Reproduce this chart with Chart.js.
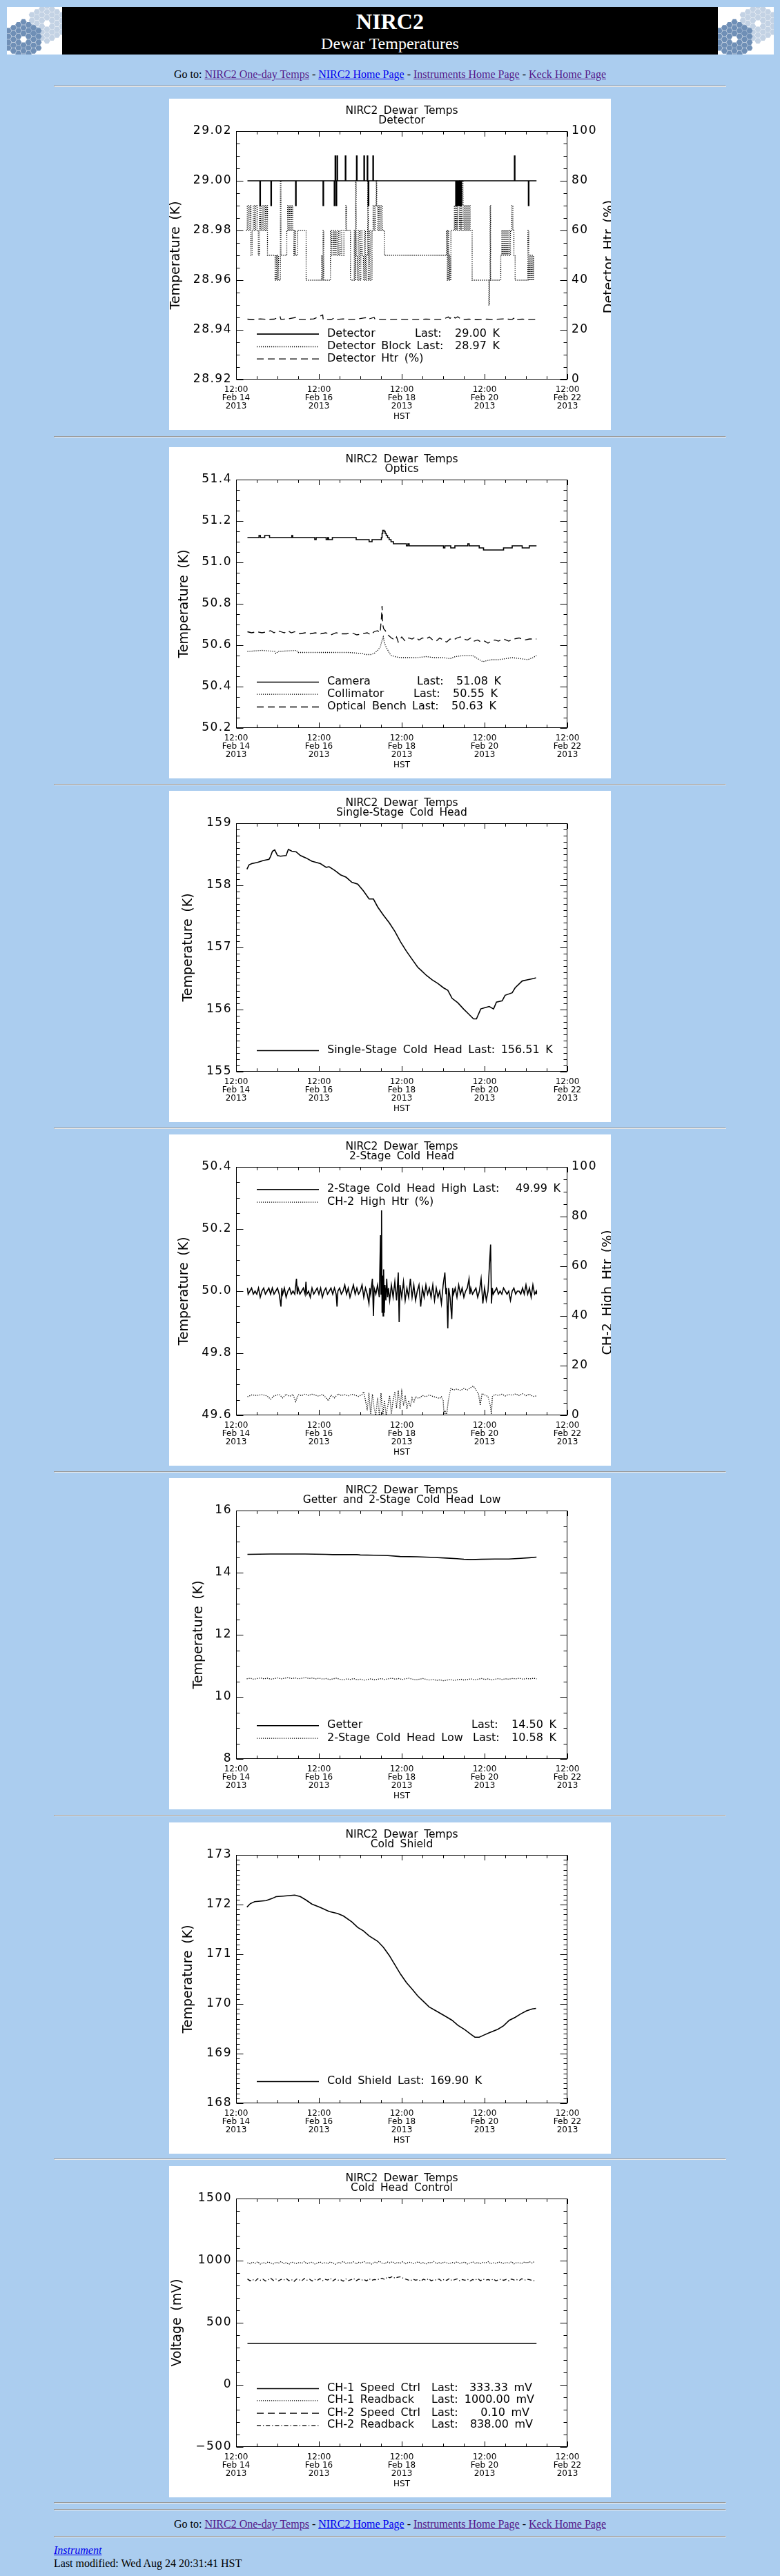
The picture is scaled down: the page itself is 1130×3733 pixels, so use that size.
<!DOCTYPE html>
<html>
<head>
<meta charset="utf-8">
<title>NIRC2 Dewar Temperatures</title>
<script src="https://cdn.jsdelivr.net/npm/chart.js@4.4.1/dist/chart.umd.min.js"></script>
<style>
  html, body { margin:0; padding:0; background:#abcdef; }
  #page { position:relative; width:1130px; height:3733px; font-family:"Liberation Serif","Times New Roman",serif; color:#000; }
  .abs { position:absolute; }
  .nav { position:absolute; left:0; width:1130px; text-align:center; font-size:16px; line-height:20px; white-space:nowrap; }
  .nav a, .foot a { text-decoration:underline; }
  .vis { color:#551a8b; }
  .unv { color:#0000ee; }
  hr.rule { position:absolute; left:78px; width:972px; margin:0; }
  canvas.plot { position:absolute; left:245px; width:640px; height:480px; background:#fff; }
  #hdr { position:absolute; left:90px; top:10px; width:950px; height:69px; background:#000; color:#fff; text-align:center; }
</style>
</head>
<body>
<div id="page">
  <canvas id="logoL" class="abs" width="80" height="69" style="left:10px;top:10px;"></canvas>
  <div id="hdr">
    <div class="abs" style="left:0;width:950px;top:5px;font-size:32px;line-height:32px;font-weight:bold;">NIRC2</div>
    <div class="abs" style="left:0;width:950px;top:41px;font-size:24px;line-height:24px;">Dewar Temperatures</div>
  </div>
  <canvas id="logoR" class="abs" width="81" height="69" style="left:1040px;top:10px;"></canvas>

  <div class="nav" style="top:98px;">Go to: <a class="vis">NIRC2 One-day Temps</a> - <a class="unv">NIRC2 Home Page</a> - <a class="vis">Instruments Home Page</a> - <a class="vis">Keck Home Page</a></div>
  <hr class="rule" style="top:124px;">

  <canvas id="c1" class="plot" width="640" height="480" style="top:143px;"></canvas>
  <hr class="rule" style="top:632px;">
  <canvas id="c2" class="plot" width="640" height="480" style="top:648px;"></canvas>
  <hr class="rule" style="top:1136px;">
  <canvas id="c3" class="plot" width="640" height="480" style="top:1146px;"></canvas>
  <hr class="rule" style="top:1634px;">
  <canvas id="c4" class="plot" width="640" height="480" style="top:1644px;"></canvas>
  <hr class="rule" style="top:2132px;">
  <canvas id="c5" class="plot" width="640" height="480" style="top:2142px;"></canvas>
  <hr class="rule" style="top:2630px;">
  <canvas id="c6" class="plot" width="640" height="480" style="top:2641px;"></canvas>
  <hr class="rule" style="top:3128px;">
  <canvas id="c7" class="plot" width="640" height="480" style="top:3139px;"></canvas>
  <hr class="rule" style="top:3626px;">
  <hr class="rule" style="top:3636px;">

  <div class="nav" style="top:3648px;">Go to: <a class="vis">NIRC2 One-day Temps</a> - <a class="unv">NIRC2 Home Page</a> - <a class="vis">Instruments Home Page</a> - <a class="vis">Keck Home Page</a></div>
  <hr class="rule" style="top:3675px;">
  <div class="abs foot" style="left:78px;top:3686px;font-size:16px;line-height:20px;"><a class="unv"><i>Instrument</i></a></div>
  <div class="abs" style="left:78px;top:3705px;font-size:16px;line-height:20px;white-space:nowrap;">Last modified: Wed Aug 24 20:31:41 HST</div>
</div>

<script>
// ================= DATA =================
// time axis: hours after 12:00 Feb 14 2013 (HST)
const xTickValues = [0, 48, 96, 144, 192];
const xTickLabels = [
  ["12:00", "Feb 14", "2013"], ["12:00", "Feb 16", "2013"], ["12:00", "Feb 18", "2013"],
  ["12:00", "Feb 20", "2013"], ["12:00", "Feb 22", "2013"]
];
const pctTicks = [0, 20, 40, 60, 80, 100];

// ---- Chart 1: Detector
const detTicks = [28.92, 28.94, 28.96, 28.98, 29.00, 29.02];
const detector = [[6.6,29.00],[13.8,28.99],[14.1,29.00],[20.2,28.99],[20.5,29.00],[34.5,28.99],[34.8,29.00],[50.4,28.99],[50.7,29.00],
  [56.9,28.99],[57.2,29.00],[57.4,29.01],[57.7,29.00],[58.0,28.99],[58.3,29.00],[58.5,29.01],[58.8,29.00],[63.3,29.01],[63.6,29.00],
  [69.8,29.01],[70.1,29.00],[74.1,29.01],[74.4,29.00],[76.0,29.01],[76.3,29.00],[76.6,28.99],[76.9,29.00],[79.3,29.01],[79.6,29.00],
  [127.3,28.99],[127.6,29.00],[127.9,28.99],[128.2,29.00],[128.5,28.99],[128.8,29.00],[129.1,28.99],[129.4,29.00],[129.7,28.99],
  [130.0,29.00],[130.3,28.99],[130.6,29.00],[161.3,29.01],[161.6,29.00],[169.4,28.99],[169.7,29.00],[174.1,29.00]];
const detectorBlock = [[5.8,28.98],[6.5,28.99],[7.3,28.98],[8.0,28.99],[8.6,28.97],[9.3,28.98],[10.0,28.99],[10.7,28.98],[11.4,28.99],
  [12.2,28.98],[12.9,28.97],[13.5,28.99],[14.2,28.98],[14.9,28.99],[15.6,28.98],[16.3,28.99],[17.0,28.98],[17.7,28.99],[18.2,28.97],
  [22.6,28.96],[23.2,28.97],[23.6,28.96],[24.0,28.97],[24.6,28.96],[25.7,29.00],[26.0,28.97],[29.4,28.98],[29.9,28.99],[30.5,28.98],
  [31.0,28.99],[31.6,28.98],[32.2,28.99],[32.8,28.98],[33.5,28.97],[34.0,28.98],[34.4,28.97],[35.6,28.98],[40.6,28.96],[49.6,28.97],
  [49.9,28.96],[50.4,28.98],[50.8,28.96],[54.7,28.98],[55.4,28.97],[56.2,28.98],[56.8,28.97],[57.4,28.98],[58.0,28.97],[58.8,28.98],
  [59.5,28.97],[60.3,28.98],[61.2,28.97],[62.5,28.98],[63.6,28.99],[64.0,28.98],[66.3,28.96],[68.5,28.98],[69.0,28.96],[69.3,29.00],
  [69.6,28.97],[70.2,28.96],[70.8,28.98],[71.5,28.96],[72.3,28.98],[73.0,28.97],[73.8,28.96],[74.4,28.98],[75.0,28.96],[75.6,28.97],
  [76.3,29.00],[76.6,28.96],[77.3,28.98],[78.0,28.96],[78.8,28.98],[79.4,28.99],[80.0,28.98],[80.6,28.99],[81.2,29.00],[81.5,28.99],
  [82.1,28.98],[82.7,28.99],[83.3,28.98],[84.0,28.99],[84.7,28.98],[86.0,28.97],[121.9,28.98],[122.4,28.96],[122.8,28.98],[123.2,28.96],
  [123.6,28.97],[124.0,28.96],[124.5,28.98],[126.5,28.99],[127.0,28.98],[127.5,29.00],[128.0,28.98],[128.5,28.99],[129.0,29.00],
  [129.5,28.98],[130.0,28.99],[130.5,28.98],[131.0,29.00],[131.5,28.99],[132.0,28.98],[132.6,28.99],[133.2,28.98],[133.8,28.99],
  [134.4,28.98],[135.0,28.99],[135.6,28.98],[136.8,28.96],[146.5,28.95],[146.9,28.96],[147.2,28.99],[147.5,28.96],[153.4,28.97],
  [154.0,28.98],[154.6,28.97],[155.2,28.98],[155.8,28.97],[156.4,28.98],[157.0,28.97],[157.6,28.98],[158.3,28.97],[159.0,28.98],
  [159.8,28.99],[160.4,28.98],[161.0,28.97],[161.7,28.96],[169.1,28.98],[169.6,28.96],[170.2,28.97],[170.8,28.96],[171.4,28.97],
  [172.0,28.96],[172.4,28.97]];
const detectorHtr = [[6.6,24.3],[10,24.1],[14,24.4],[18,24.2],[22,24.3],[25.5,25.3],[26,24.2],[30,24.4],[34.5,25.0],[35,24.3],
  [40,24.2],[45,24.4],[50.2,26.0],[50.5,24.2],[51,24.3],[55,24.1],[57,24.8],[58,24.2],[62,24.4],[66,24.2],[70,24.3],[75,24.9],
  [76,24.2],[80,25.0],[80.5,24.3],[85,24.2],[90,24.2],[95,24.3],[100,24.2],[105,24.2],[110,24.3],[115,24.2],[120,24.3],[123,25.2],
  [124,24.6],[125.5,25.5],[127,24.7],[128.5,25.3],[130,24.5],[131,24.2],[135,24.3],[140,24.1],[145,24.3],[150,24.2],[155,24.4],
  [160,24.2],[161.5,24.9],[162,24.2],[166,24.3],[170,24.2],[174.1,24.3]];

// ---- Chart 2: Optics
const opticsTicks = [50.2, 50.4, 50.6, 50.8, 51.0, 51.2, 51.4];
const camera = [[6.6,51.12],[13.3,51.13],[14.1,51.12],[16.6,51.13],[19.4,51.12],[32.3,51.13],[32.8,51.12],[45.6,51.11],[46.4,51.12],
  [52.2,51.11],[53.0,51.12],[53.6,51.11],[55.8,51.12],[69.6,51.11],[77.1,51.10],[78.8,51.11],[84.2,51.12],[84.6,51.14],[85.0,51.155],
  [85.8,51.15],[86.4,51.14],[87.0,51.13],[87.8,51.12],[88.7,51.11],[89.8,51.10],[91.2,51.09],[98.7,51.08],[99.6,51.09],[100.3,51.08],
  [120.2,51.07],[121.0,51.08],[124.4,51.07],[126.8,51.08],[134.3,51.09],[135.1,51.08],[140.9,51.07],[143.4,51.06],[155.0,51.07],
  [160.0,51.08],[165.8,51.07],[169.9,51.08],[174.1,51.08]];
const collimator = [[6.6,50.57],[15,50.575],[22.5,50.57],[23,50.56],[24.5,50.57],[35,50.575],[36,50.565],[45,50.565],[55,50.565],
  [65,50.565],[73,50.56],[75,50.555],[78,50.555],[80,50.56],[82,50.575],[83.5,50.59],[84.5,50.62],[85.3,50.64],[86,50.61],[87,50.59],
  [88,50.575],[89,50.56],[90,50.55],[92,50.545],[95,50.54],[100,50.54],[105,50.54],[110,50.545],[115,50.54],[120,50.54],[124,50.535],
  [127,50.545],[132,50.55],[137,50.55],[139,50.54],[141,50.53],[143,50.52],[145,50.525],[148,50.53],[152,50.53],[156,50.535],
  [160,50.54],[165,50.535],[169,50.53],[172,50.54],[174.1,50.55]];
const opticalBench = [[6.6,50.665],[9,50.66],[12,50.665],[15,50.66],[18,50.665],[20,50.67],[22,50.66],[24,50.67],[26,50.665],
  [28,50.66],[30,50.67],[32,50.66],[34,50.665],[37,50.655],[40,50.66],[43,50.655],[46,50.66],[49,50.655],[52,50.66],[55,50.65],
  [58,50.66],[61,50.655],[64,50.655],[67,50.66],[70,50.65],[73,50.655],[76,50.66],[78,50.65],[80,50.665],[82,50.67],[83.5,50.66],
  [84.2,50.73],[84.6,50.79],[85.0,50.70],[85.5,50.68],[86.5,50.67],[88,50.65],[90,50.635],[92,50.625],[93,50.64],[94,50.615],
  [96,50.64],[98,50.62],[100,50.635],[102,50.63],[104,50.64],[106,50.625],[108,50.635],[110,50.63],[112,50.64],[114,50.625],
  [116,50.62],[118,50.635],[120,50.625],[122,50.615],[124,50.63],[126,50.625],[128,50.635],[130,50.64],[132,50.63],[134,50.625],
  [136,50.635],[138,50.62],[140,50.625],[142,50.615],[144,50.62],[146,50.61],[148,50.62],[150,50.625],[152,50.62],[155,50.63],
  [158,50.62],[161,50.63],[164,50.635],[167,50.625],[170,50.63],[174.1,50.63]];

// ---- Chart 3: Single-Stage Cold Head
const ssTicks = [155, 156, 157, 158, 159];
const singleStage = [[6.3,158.26],[7.5,158.33],[9.1,158.35],[12.4,158.37],[15.8,158.40],[19.1,158.42],[19.9,158.46],[21.1,158.55],
  [22.4,158.57],[24.0,158.48],[25.7,158.47],[29.0,158.48],[30.3,158.58],[32.3,158.55],[34.8,158.54],[37.3,158.48],[40.6,158.44],
  [43.9,158.39],[48.9,158.35],[52.2,158.29],[53.9,158.30],[57.2,158.24],[60.5,158.17],[63.8,158.13],[67.1,158.05],[70.5,158.02],
  [73.8,157.91],[77.1,157.78],[79.6,157.78],[82.1,157.65],[85.4,157.52],[88.7,157.40],[92.0,157.26],[95.3,157.09],[98.7,156.94],
  [102.0,156.81],[105.3,156.68],[106.9,156.64],[110.3,156.55],[113.6,156.48],[116.9,156.42],[120.2,156.35],[122.7,156.31],
  [125.2,156.18],[128.5,156.11],[131.8,156.01],[135.1,155.92],[137.6,155.85],[139.3,155.85],[141.8,156.01],[144.2,156.03],
  [146.7,156.05],[149.2,156.01],[150.9,156.12],[154.2,156.14],[155.9,156.23],[160.0,156.27],[161.7,156.35],[165.8,156.46],
  [169.1,156.48],[172.4,156.50],[173.8,156.51]];

// ---- Chart 4: 2-Stage Cold Head
const tsTicks = [49.6, 49.8, 50.0, 50.2, 50.4];
const twoStageHigh = [[6.6,50.01],[7,49.99],[8,50.00],[9,50.01],[10,49.99],[11,50.00],[12,49.99],[13,50.01],[14,49.98],[15,50.00],
  [16,50.01],[17,49.99],[18,50.00],[19,50.01],[20,49.99],[21,50.01],[22,49.99],[23,50.00],[24,50.01],[25,49.99],[26,49.95],[26.5,50.01],
  [27,49.99],[28,50.01],[29,49.98],[30,50.00],[31,50.01],[32,49.99],[33,50.00],[34,49.99],[35,50.04],[35.5,49.99],[36,50.01],[37,49.99],
  [38,50.00],[39,50.01],[40,49.99],[40.5,50.03],[41,49.99],[42,50.00],[43,49.98],[44,50.01],[45,49.99],[46,50.00],[47,50.01],[48,49.99],
  [49,50.01],[50,49.98],[51,50.00],[52,50.01],[53,49.99],[54,50.00],[55,50.01],[56,49.99],[57,50.01],[58,49.99],[58.5,49.95],[59,50.00],
  [60,50.01],[61,49.99],[62,50.00],[63,50.02],[64,49.99],[65,50.01],[66,49.98],[67,50.00],[68,50.02],[69,49.99],[70,50.01],[71,49.99],
  [72,50.00],[73,50.02],[74,49.98],[75,50.01],[76,49.99],[77,49.96],[77.5,50.01],[78,49.99],[79,50.04],[79.6,49.92],[80,50.01],[81,49.99],
  [82,50.02],[83,49.98],[83.7,50.18],[84,49.99],[84.3,50.26],[84.6,49.93],[84.9,50.05],[85.2,49.92],[85.5,50.07],[85.9,49.93],
  [86.3,50.02],[86.8,49.97],[87.3,50.04],[87.8,49.98],[88.3,50.01],[89,49.97],[90,50.02],[91,49.98],[92,50.03],[93,49.97],[94,50.06],
  [94.5,49.90],[95,50.02],[96,49.98],[97,50.03],[98,49.97],[99,50.01],[100,49.98],[101,50.04],[102,49.98],[103,50.02],[104,49.97],
  [105,50.00],[106,50.02],[107,49.95],[108,50.01],[109,49.98],[110,50.02],[111,49.99],[112,50.01],[113,49.98],[114,50.02],[115,49.97],
  [116,50.01],[117,49.98],[118,50.00],[119,49.96],[120,50.02],[121,50.06],[121.6,49.99],[122,50.01],[122.7,49.88],[123.2,50.01],
  [124,49.98],[125,49.91],[125.5,50.01],[126,49.99],[127,50.01],[128,49.98],[129,50.02],[130,49.99],[131,50.01],[132,49.98],[133,50.00],
  [134,50.01],[135,50.04],[135.5,49.99],[136,50.01],[137,49.99],[138,50.00],[139,50.01],[140,49.98],[141,50.00],[142,50.04],[143,49.96],
  [144,50.01],[145,49.97],[146,50.00],[147.5,50.15],[148,49.96],[148.5,50.01],[149,49.99],[150,50.00],[151,50.01],[152,49.99],[153,50.00],
  [154,49.99],[155,50.01],[156,50.00],[157,49.99],[158,50.00],[159,49.97],[160,50.00],[161,50.01],[162,49.99],[163,50.00],[164,50.00],
  [165,49.99],[166,50.01],[167,49.99],[168,50.02],[169,49.99],[170,50.01],[171,49.98],[172,50.02],[173,49.99],[174,50.00],[174.1,49.99]];
const ch2HighHtr = [[6.6,7.5],[9,8.2],[12,8.0],[15,8.3],[18,7.8],[20,6.5],[22,7.8],[25,8.4],[27,7.0],[29,8.5],[31,7.6],[33,8.4],
  [34.5,5.5],[36,8.3],[38,7.9],[40,8.6],[42,8.0],[44,8.5],[46,8.1],[48,7.7],[50,8.4],[52,7.2],[53.5,5.8],[55,8.2],[57,7.0],[59,8.6],
  [61,8.0],[63,8.3],[65,7.8],[67,8.5],[69,8.1],[71,7.6],[73,8.4],[74,9.5],[75,6.0],[76,2.0],[77,9.0],[78,0.0],[79,8.5],[80,3.0],
  [81,0.0],[82,7.0],[83,0.0],[84,9.0],[85,0.0],[86,6.0],[87,0.0],[88,4.0],[89,8.0],[90,0.5],[91,6.0],[92,9.5],[93,3.0],[94,10.0],
  [95,2.5],[96,9.5],[97,4.0],[98,8.0],[99,2.5],[100,6.0],[101,3.5],[102,7.0],[103,5.0],[104,7.5],[106,6.8],[108,8.0],[110,7.5],
  [112,8.2],[114,7.6],[116,7.2],[118,6.8],[119,7.5],[120,6.0],[120.5,0.0],[121,2.0],[122,0.0],[123,6.0],[124,9.5],[124.5,10.8],
  [126,10.2],[128,10.6],[130,10.0],[132,10.8],[134,10.2],[136,11.2],[137.5,11.8],[139,10.2],[140.5,8.6],[141.5,4.0],[142.5,8.8],
  [144,8.2],[146,7.6],[147.5,3.5],[148,0.0],[148.5,7.5],[150,8.4],[152,8.0],[154,8.5],[156,7.8],[158,8.4],[160,8.1],[162,8.6],
  [164,8.0],[166,8.7],[168,7.9],[170,8.5],[172,7.6],[174.1,7.8]];

// ---- Chart 5: Getter and 2-Stage Cold Head Low
const getterTicks = [8, 10, 12, 14, 16];
const getter = [[6.6,14.59],[20,14.60],[40,14.60],[52,14.59],[56,14.58],[70,14.58],[72,14.57],[80,14.56],[88,14.55],[95,14.52],
  [105,14.51],[115,14.49],[122,14.47],[128,14.45],[132,14.43],[136,14.42],[142,14.43],[150,14.44],[158,14.44],[165,14.46],
  [170,14.48],[174.1,14.50]];
const lowStart = 6.2, lowStep = 2;
const twoStageLow = [10.58,10.60,10.57,10.59,10.61,10.58,10.60,10.57,10.59,10.61,
  10.58,10.60,10.62,10.59,10.61,10.58,10.60,10.62,10.59,10.61,
  10.58,10.60,10.57,10.59,10.56,10.58,10.60,10.57,10.55,10.58,
  10.56,10.59,10.55,10.57,10.54,10.56,10.58,10.55,10.57,10.59,
  10.56,10.58,10.60,10.57,10.59,10.56,10.58,10.60,10.57,10.55,
  10.57,10.59,10.56,10.54,10.56,10.53,10.55,10.52,10.54,10.56,
  10.53,10.55,10.57,10.54,10.56,10.58,10.55,10.57,10.59,10.56,
  10.58,10.55,10.57,10.59,10.56,10.58,10.57,10.59,10.58,10.60,
  10.57,10.59,10.58,10.60,10.58];

// ---- Chart 6: Cold Shield
const csTicks = [168, 169, 170, 171, 172, 173];
const coldShield = [[6.3,171.95],[8.3,172.02],[10.8,172.06],[14.1,172.07],[17.4,172.08],[20.7,172.12],[23.2,172.16],[27.4,172.17],
  [30.7,172.18],[34.0,172.19],[37.3,172.16],[40.6,172.09],[43.9,172.01],[48.9,171.94],[53.9,171.86],[58.9,171.82],[62.2,171.77],
  [67.1,171.65],[70.5,171.54],[73.8,171.47],[77.1,171.37],[82.1,171.26],[85.4,171.14],[88.7,170.98],[92.0,170.79],[95.3,170.60],
  [98.7,170.43],[102.0,170.30],[105.3,170.16],[108.6,170.05],[111.9,169.94],[116.9,169.84],[121.9,169.74],[125.2,169.67],
  [128.5,169.57],[132.6,169.48],[136.0,169.39],[138.4,169.33],[140.9,169.33],[143.4,169.37],[146.7,169.42],[151.7,169.49],
  [155.0,169.56],[158.3,169.67],[161.7,169.73],[165.0,169.80],[168.3,169.86],[171.6,169.90],[173.8,169.91]];

// ---- Chart 7: Cold Head Control
const voltTicks = [-500, 0, 500, 1000, 1500];
const ch1Speed = [[6.6,333.33],[174.1,333.33]];
const ch2Speed = [];
const rbStart = 6.6, rbStep = 1.5;
const ch1Readback = [982,975,988,979,991,972,985,978,990,981,
  974,987,980,993,976,984,970,989,982,977,
  986,979,992,975,983,988,973,981,990,978,
  985,976,989,982,971,987,980,994,977,984,
  979,990,974,986,981,993,978,985,972,988,
  983,996,980,975,989,982,992,977,986,979,
  991,974,984,988,976,983,990,979,985,972,
  987,981,993,976,984,978,989,982,975,986,
  980,991,977,984,988,973,982,990,979,985,
  976,987,981,992,975,983,978,989,984,977,
  986,980,991,974,985,982,979,988,983,990,
  981,995];
const ch2Readback = [852,838,848,835,855,842,850,836,846,858,
  840,851,837,849,844,856,839,847,833,852,
  845,838,857,843,850,836,848,841,855,839,
  849,844,858,837,851,842,847,835,853,840,
  846,856,838,850,843,849,837,854,841,848,
  845,852,859,848,868,862,872,858,866,870,
  860,852,845,839,851,843,848,836,850,842,
  855,838,847,844,852,837,849,841,856,840,
  846,853,839,848,842,850,836,847,844,855,
  838,851,843,848,840,853,837,846,850,842,
  849,838,852,844,847,840,854,843,850,846,
  841,838];

// ================= RENDERING =================
const FONT = "'DejaVu Sans', 'Liberation Sans', sans-serif";
const SOLID = [], DOTTED = [1.2, 1.8], DASHED = [10, 6], DASHDOT = [6, 3, 1.2, 3];

function pts(arr) { return arr.map(p => ({ x: p[0], y: p[1] })); }
function gridPts(start, step, vals) { return vals.map((v, i) => ({ x: start + i * step, y: v })); }
function line(data, dash, axis, stepped) {
  return { data: data, yAxisID: axis || 'y', borderColor: '#000', borderWidth: dash.length ? 1.3 : 1.6, borderDash: dash,
           pointRadius: 0, fill: false, tension: 0, stepped: !!stepped };
}

function tickMarks(min, max, minor, major) {
  const n = Math.round((max - min) / minor), r = Math.round(major / minor), out = [];
  for (let i = 0; i <= n; i++) out.push({ v: min + i * minor, major: i % r === 0 });
  return out;
}

function idlPlugin(spec) {
  return {
    id: 'idl',
    beforeDraw(chart) {
      const c = chart.ctx; c.save(); c.fillStyle = '#fff'; c.fillRect(0, 0, chart.width, chart.height); c.restore();
    },
    afterLayout(chart) {
      ['y', 'y2'].forEach(id => {
        const s = chart.scales[id];
        if (s && !s._lsWrapped) {
          const orig = s.drawLabels.bind(s);
          s.drawLabels = function (area) { const c = chart.ctx; c.save(); c.letterSpacing = '1.5px'; orig(area); c.restore(); };
          s._lsWrapped = true;
        }
      });
    },
    afterDraw(chart) {
      const ctx = chart.ctx, a = chart.chartArea;
      const L = Math.round(a.left) + 0.5, R = Math.round(a.right) - 0.5, T = Math.round(a.top) + 0.5, B = Math.round(a.bottom) - 0.5;
      ctx.save();
      ctx.strokeStyle = '#000'; ctx.lineWidth = 1; ctx.setLineDash([]);
      ctx.strokeRect(L, T, R - L, B - T);
      ctx.beginPath();
      const xs = chart.scales.x;
      tickMarks(xs.min, xs.max, 12, 48).forEach(t => {
        const px = Math.round(xs.getPixelForValue(t.v)) + 0.5, len = t.major ? 7.5 : 4.3;
        ctx.moveTo(px, B); ctx.lineTo(px, B - len);
        ctx.moveTo(px, T); ctx.lineTo(px, T + len);
      });
      const ys = chart.scales.y;
      tickMarks(ys.min, ys.max, spec.y.minor, spec.y.major).forEach(t => {
        const py = Math.round(ys.getPixelForValue(t.v)) + 0.5, len = t.major ? 10 : 5;
        ctx.moveTo(L, py); ctx.lineTo(L + len, py);
        if (!spec.y2) { ctx.moveTo(R, py); ctx.lineTo(R - len, py); }
      });
      if (spec.y2) {
        const y2 = chart.scales.y2;
        tickMarks(y2.min, y2.max, spec.y2.minor, spec.y2.major).forEach(t => {
          const py = Math.round(y2.getPixelForValue(t.v)) + 0.5, len = t.major ? 10 : 5;
          ctx.moveTo(R, py); ctx.lineTo(R - len, py);
        });
      }
      ctx.stroke();

      // titles
      ctx.fillStyle = '#000';
      ctx.textBaseline = 'middle';
      ctx.wordSpacing = '3.5px';
      const cx = (a.left + a.right) / 2;
      ctx.textAlign = 'center';
      ctx.font = '15.5px ' + FONT;
      ctx.fillText('NIRC2 Dewar Temps', cx, 17.8);
      ctx.fillText(spec.subtitle, cx, 32.3);
      ctx.font = '12px ' + FONT;
      ctx.fillText('HST', cx, 461);
      // axis titles (read bottom-to-top)
      ctx.font = '19px ' + FONT;
      const cy = (a.top + a.bottom) / 2;
      ctx.save(); ctx.translate(spec.ytitleX, cy); ctx.rotate(-Math.PI / 2); ctx.fillText(spec.ytitle, 0, 0); ctx.restore();
      if (spec.y2) {
        ctx.save(); ctx.translate(spec.y2.titleX, cy + 2); ctx.rotate(-Math.PI / 2); ctx.fillText(spec.y2.title, 0, 0); ctx.restore();
      }
      // legend
      ctx.font = '16px ' + FONT;
      spec.legend.forEach(row => {
        ctx.setLineDash(row.dash);
        ctx.lineWidth = row.dash.length ? 1.3 : 1.6;
        ctx.beginPath(); ctx.moveTo(127, row.y + 0.5); ctx.lineTo(217, row.y + 0.5); ctx.stroke();
        ctx.setLineDash([]);
        let prevEnd = 0;
        row.parts.forEach(p => {
          const w = ctx.measureText(p[0]).width;
          let x = p[1];
          if (p[2] === 'right') { x = Math.max(x, prevEnd + 8 + w); ctx.textAlign = 'right'; ctx.fillText(p[0], x, row.y); prevEnd = x; }
          else { x = Math.max(x, prevEnd + 8); ctx.textAlign = 'left'; ctx.fillText(p[0], x, row.y); prevEnd = x + w; }
        });
      });
      ctx.restore();
    }
  };
}

function yScale(pos, min, max, ticks, fmt, width) {
  return {
    type: 'linear', position: pos, min: min, max: max,
    afterBuildTicks: s => { s.ticks = ticks.map(v => ({ value: v })); },
    afterFit: s => { s.width = width; },
    grid: { display: false, drawTicks: false }, border: { display: false },
    ticks: { padding: 6, color: '#000', font: { family: FONT, size: 17 },
             callback: v => fmt(v).replace('-', '\u2212') }
  };
}

function idlChart(id, spec) {
  const scales = {
    x: {
      type: 'linear', min: 0, max: 192,
      afterBuildTicks: s => { s.ticks = xTickValues.map(v => ({ value: v })); },
      afterFit: s => { s.height = 73; },
      grid: { display: false, drawTicks: false }, border: { display: false },
      ticks: { autoSkip: false, maxRotation: 0, minRotation: 0, padding: 9, color: '#000',
               font: { family: FONT, size: 12, lineHeight: 1.0 },
               callback: v => xTickLabels[xTickValues.indexOf(v)] }
    },
    y: yScale('left', spec.y.min, spec.y.max, spec.y.ticks, spec.y.fmt, 97)
  };
  if (spec.y2) scales.y2 = yScale('right', spec.y2.min, spec.y2.max, spec.y2.ticks, spec.y2.fmt, 63);
  return new Chart(document.getElementById(id), {
    type: 'line',
    data: { datasets: spec.datasets },
    options: {
      responsive: false, animation: false, events: [],
      layout: { padding: { top: 47, left: 0, bottom: 0, right: spec.y2 ? 0 : 63 } },
      scales: scales,
      plugins: { legend: { display: false }, tooltip: { enabled: false }, title: { display: false } }
    },
    plugins: [idlPlugin(spec)]
  });
}

const f0 = v => String(Math.round(v));
const f1 = v => v.toFixed(1);
const f2 = v => v.toFixed(2);

idlChart('c1', {
  subtitle: 'Detector', ytitle: 'Temperature (K)', ytitleX: 10,
  y: { min: 28.92, max: 29.02, ticks: detTicks, fmt: f2, minor: 0.005, major: 0.02 },
  y2: { min: 0, max: 100, ticks: pctTicks, fmt: f0, minor: 5, major: 20, title: 'Detector Htr (%)', titleX: 638 },
  datasets: [ line(pts(detector), SOLID, 'y', true), line(pts(detectorBlock), DOTTED, 'y', true), line(pts(detectorHtr), DASHED, 'y2') ],
  legend: [
    { y: 340.6, dash: SOLID, parts: [['Detector', 229], ['Last:', 356], ['29.00 K', 479, 'right']] },
    { y: 359, dash: DOTTED, parts: [['Detector Block', 229], ['Last:', 353], ['28.97 K', 479, 'right']] },
    { y: 376.6, dash: DASHED, parts: [['Detector Htr (%)', 229]] }
  ]
});

idlChart('c2', {
  subtitle: 'Optics', ytitle: 'Temperature (K)', ytitleX: 22,
  y: { min: 50.2, max: 51.4, ticks: opticsTicks, fmt: f1, minor: 0.05, major: 0.2 },
  datasets: [ line(pts(camera), SOLID, 'y', true), line(pts(collimator), DOTTED), line(pts(opticalBench), DASHED) ],
  legend: [
    { y: 340, dash: SOLID, parts: [['Camera', 229], ['Last:', 359], ['51.08 K', 481, 'right']] },
    { y: 357.7, dash: DOTTED, parts: [['Collimator', 229], ['Last:', 354], ['50.55 K', 476, 'right']] },
    { y: 376, dash: DASHED, parts: [['Optical Bench', 229], ['Last:', 352], ['50.63 K', 474, 'right']] }
  ]
});

idlChart('c3', {
  subtitle: 'Single-Stage Cold Head', ytitle: 'Temperature (K)', ytitleX: 28.5,
  y: { min: 155, max: 159, ticks: ssTicks, fmt: f0, minor: 0.1, major: 1 },
  datasets: [ line(pts(singleStage), SOLID) ],
  legend: [ { y: 376, dash: SOLID, parts: [['Single-Stage Cold Head Last: 156.51 K', 229]] } ]
});

idlChart('c4', {
  subtitle: '2-Stage Cold Head', ytitle: 'Temperature (K)', ytitleX: 22,
  y: { min: 49.6, max: 50.4, ticks: tsTicks, fmt: f1, minor: 0.05, major: 0.2 },
  y2: { min: 0, max: 100, ticks: pctTicks, fmt: f0, minor: 5, major: 20, title: 'CH-2 High Htr (%)', titleX: 636 },
  datasets: [ line(pts(twoStageHigh), SOLID), line(pts(ch2HighHtr), DOTTED, 'y2') ],
  legend: [
    { y: 79.3, dash: SOLID, parts: [['2-Stage Cold Head High Last:', 229], ['49.99 K', 567, 'right']] },
    { y: 97.7, dash: DOTTED, parts: [['CH-2 High Htr (%)', 229]] }
  ]
});

idlChart('c5', {
  subtitle: 'Getter and 2-Stage Cold Head Low', ytitle: 'Temperature (K)', ytitleX: 43,
  y: { min: 8, max: 16, ticks: getterTicks, fmt: f0, minor: 0.5, major: 2 },
  datasets: [ line(pts(getter), SOLID), line(gridPts(lowStart, lowStep, twoStageLow), DOTTED) ],
  legend: [
    { y: 358.3, dash: SOLID, parts: [['Getter', 229], ['Last:', 438], ['14.50 K', 561, 'right']] },
    { y: 376.7, dash: DOTTED, parts: [['2-Stage Cold Head Low', 229], ['Last:', 440], ['10.58 K', 561, 'right']] }
  ]
});

idlChart('c6', {
  subtitle: 'Cold Shield', ytitle: 'Temperature (K)', ytitleX: 28.5,
  y: { min: 168, max: 173, ticks: csTicks, fmt: f0, minor: 0.1, major: 1 },
  datasets: [ line(pts(coldShield), SOLID) ],
  legend: [ { y: 375, dash: SOLID, parts: [['Cold Shield Last: 169.90 K', 229]] } ]
});

idlChart('c7', {
  subtitle: 'Cold Head Control', ytitle: 'Voltage (mV)', ytitleX: 12,
  y: { min: -500, max: 1500, ticks: voltTicks, fmt: f0, minor: 100, major: 500 },
  datasets: [ line(pts(ch1Speed), SOLID), line(gridPts(rbStart, rbStep, ch1Readback), DOTTED),
              line(pts(ch2Speed), DASHED), line(gridPts(rbStart, rbStep, ch2Readback), DASHDOT) ],
  legend: [
    { y: 322, dash: SOLID, parts: [['CH-1 Speed Ctrl', 229], ['Last:', 380], ['333.33 mV', 526, 'right']] },
    { y: 339.3, dash: DOTTED, parts: [['CH-1 Readback', 229], ['Last:', 380], ['1000.00 mV', 529, 'right']] },
    { y: 357.7, dash: DASHED, parts: [['CH-2 Speed Ctrl', 229], ['Last:', 380], ['0.10 mV', 522, 'right']] },
    { y: 375.3, dash: DASHDOT, parts: [['CH-2 Readback', 229], ['Last:', 380], ['838.00 mV', 527, 'right']] }
  ]
});

// ---- Keck logo (decorative, not chart data)
function drawLogo(id) {
  const cv = document.getElementById(id), g = cv.getContext('2d');
  g.fillStyle = '#fff'; g.fillRect(0, 0, cv.width, cv.height);
  function cluster(cx, cy, color) {
    const d = 8.4, r = 4.6;
    g.fillStyle = color;
    for (let q = -3; q <= 3; q++) for (let s = -3; s <= 3; s++) {
      const k = -q - s;
      if (Math.max(Math.abs(q), Math.abs(s), Math.abs(k)) > 3 || (q === 0 && s === 0)) continue;
      const x = cx + d * (s * Math.sqrt(3) / 2), y = cy + d * (q + s / 2);
      g.beginPath();
      for (let j = 0; j < 6; j++) { const an = j * Math.PI / 3; g.lineTo(x + r * Math.cos(an), y + r * Math.sin(an)); }
      g.closePath(); g.fill();
    }
  }
  cluster(58, 24, '#c3d2e4');
  cluster(24, 47, '#6f8fb6');
}
drawLogo('logoL'); drawLogo('logoR');
</script>
</body>
</html>
